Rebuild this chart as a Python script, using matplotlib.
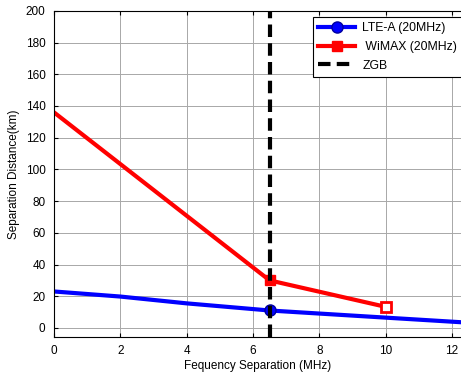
import matplotlib
matplotlib.use('Agg')
import matplotlib.pyplot as plt  # noqa E402

# data
lte_x = [0, 2, 4, 6.5, 10, 12.27]
lte_y = [23, 19.8, 15.5, 11, 6.5, 3.6]
wimax_x = [0, 6.5, 10]
wimax_y = [136, 30, 13.3]
zgb_x = 6.5

xticks = [0, 2, 4, 6, 8, 10, 12]
yticks = [0, 20, 40, 60, 80, 100, 120, 140, 160, 180, 200]

plt.rcParams['font.family'] = ['Liberation Sans', 'DejaVu Sans']
plt.rcParams['font.size'] = 8.5

fig = plt.figure(figsize=(4.61, 3.74), dpi=100)
ax = fig.add_axes([0.117, 0.099, 0.883, 0.872])

ax.grid(True, color='#a8a8a8', linewidth=0.7, linestyle='-')
ax.set_axisbelow(True)

ax.plot(lte_x, lte_y, color='blue', linewidth=3, marker='o', markersize=8,
        markevery=[3], markerfacecolor='blue', markeredgecolor='#0000a0',
        label='LTE-A (20MHz)')
ax.plot(wimax_x, wimax_y, color='red', linewidth=3, label=' WiMAX (20MHz)',
        marker='s', markersize=7, markevery=[1])
ax.plot(wimax_x[2:], wimax_y[2:], linestyle='none', marker='s', markersize=7,
        markerfacecolor='white', markeredgecolor='red', markeredgewidth=2)
ax.axvline(zgb_x, color='black', linewidth=3, linestyle=(0, (3, 1.5)),
           label='ZGB')

ax.set_xlim(0, 12.27)
ax.set_ylim(-5.7, 200)
ax.set_xticks(xticks)
ax.set_yticks(yticks)
ax.tick_params(direction='in', top=True, right=False, length=3, pad=6)
ax.spines['right'].set_visible(False)

ax.set_xlabel('Fequency Separation (MHz)', labelpad=2)
ax.set_ylabel('Separation Distance(km)', labelpad=4)

leg = ax.legend(loc='upper left', bbox_to_anchor=(0.636, 0.982), fancybox=False,
                framealpha=1, edgecolor='black', borderpad=0.45, fontsize=8.8,
                handlelength=3.0, handletextpad=0.6, labelspacing=0.55,
                borderaxespad=0)
leg.get_frame().set_linewidth(0.8)

fig.savefig('out.png', dpi=100)
plt.close(fig)
